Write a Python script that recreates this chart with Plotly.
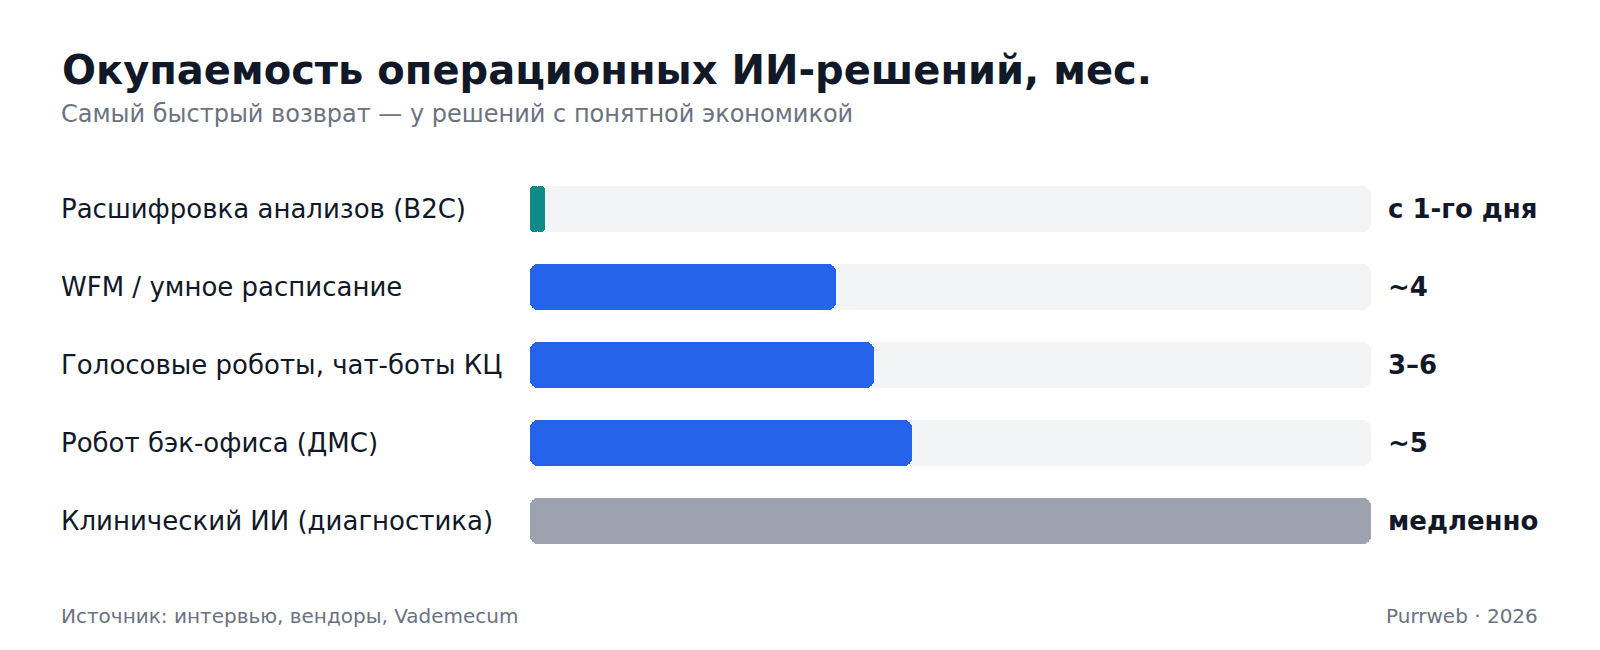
import plotly.graph_objects as go

# данные
categories = [
    "Расшифровка анализов (B2C)",
    "WFM / умное расписание",
    "Голосовые роботы, чат-боты КЦ",
    "Робот бэк-офиса (ДМС)",
    "Клинический ИИ (диагностика)",
]
months = [0.2, 4, 4.5, 5, 11]
value_labels = ["с 1-го дня", "~4", "3–6", "~5", "медленно"]
bar_colors = ["#0E8B87", "#2563EB", "#2563EB", "#2563EB", "#9CA3AF"]
scale_max = 11

W, H = 1600, 650
L, R, T, B = 530, 229, 170, 90
plot_w = W - L - R
plot_h = H - T - B


def px_x(x):
    return (x - L) / plot_w


def px_y(y):
    return (H - B - y) / plot_h


rows = list(range(len(categories)))
bar_w = 46 / 78  # высота полосы ~46px при шаге строк 78px


def rounded_bar(fig, values, colors, hover=True):
    # две перекрывающиеся половинки, чтобы скруглить оба конца
    left_base = [v * 0.6 for v in values]
    right_base = [v * 0.4 for v in values]
    half = [v * 0.6 for v in values]
    fig.add_trace(go.Bar(
        x=[-h for h in half], base=left_base, y=rows, orientation="h",
        marker=dict(color=colors, line_width=0), width=bar_w,
        hoverinfo="skip", showlegend=False,
    ))
    fig.add_trace(go.Bar(
        x=half, base=right_base, y=rows, orientation="h",
        marker=dict(color=colors, line_width=0), width=bar_w,
        customdata=values,
        hovertemplate="%{customdata}<extra></extra>" if hover else None,
        hoverinfo=None if hover else "skip",
        showlegend=False,
    ))


fig = go.Figure()
rounded_bar(fig, [scale_max] * len(categories), ["#F3F4F6"] * len(categories), hover=False)
rounded_bar(fig, months, bar_colors)

annotations = []
for i, name in enumerate(categories):
    annotations.append(dict(
        x=px_x(58.5), y=i, xref="paper", yref="y",
        text=name, showarrow=False, xanchor="left", yanchor="middle",
        font=dict(size=26, color="#111827"),
    ))
    annotations.append(dict(
        x=px_x(1386), y=i, xref="paper", yref="y",
        text="<b>" + value_labels[i] + "</b>", showarrow=False,
        xanchor="left", yanchor="middle",
        font=dict(size=26, color="#111827"),
    ))

annotations += [
    dict(x=px_x(59.5), y=px_y(70), xref="paper", yref="paper",
         text="<b>Окупаемость операционных ИИ-решений, мес.</b>",
         showarrow=False, xanchor="left", yanchor="middle",
         font=dict(size=40, color="#111827")),
    dict(x=px_x(59.5), y=px_y(114), xref="paper", yref="paper",
         text="Самый быстрый возврат — у решений с понятной экономикой",
         showarrow=False, xanchor="left", yanchor="middle",
         font=dict(size=24, color="#6B7280")),
    dict(x=px_x(59.5), y=px_y(615.5), xref="paper", yref="paper",
         text="Источник: интервью, вендоры, Vademecum",
         showarrow=False, xanchor="left", yanchor="middle",
         font=dict(size=20, color="#6B7280")),
    dict(x=px_x(1540), y=px_y(615.5), xref="paper", yref="paper",
         text="Purrweb · 2026",
         showarrow=False, xanchor="right", yanchor="middle",
         font=dict(size=20, color="#6B7280")),
]

fig.update_layout(
    width=W, height=H,
    margin=dict(l=L, r=R, t=T, b=B),
    paper_bgcolor="white",
    plot_bgcolor="white",
    font=dict(family="DejaVu Sans"),
    barmode="overlay",
    bargap=0,
    bargroupgap=0,
    barcornerradius=8,
    xaxis=dict(range=[0, scale_max], visible=False, fixedrange=True),
    yaxis=dict(range=[len(categories) - 0.5, -0.5], visible=False, fixedrange=True),
    annotations=annotations,
)

fig.write_html(
    "out.html",
    config={"displayModeBar": False},
    post_script="document.body.style.margin='0';",
)
